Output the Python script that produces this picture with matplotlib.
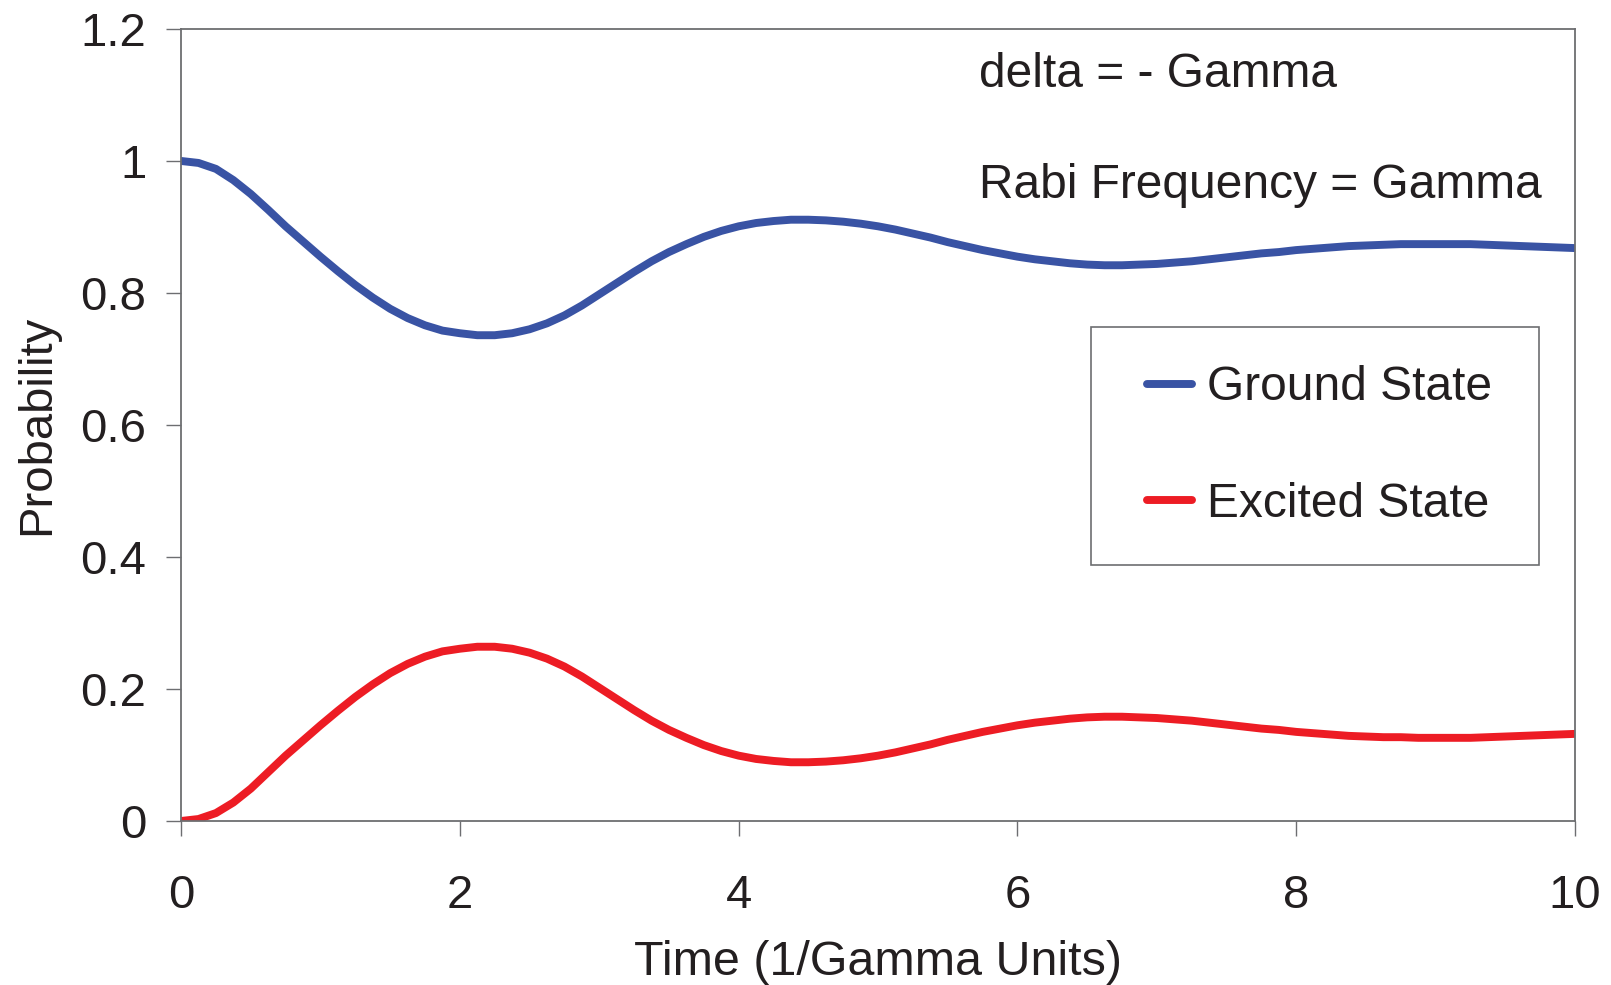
import numpy as np
import matplotlib
matplotlib.use("Agg")
import matplotlib.pyplot as plt
from matplotlib.legend_handler import HandlerLine2D

plt.rcParams['font.family'] = ['Liberation Sans', 'DejaVu Sans']

# state populations, sampled every 1/8 time unit
time = [0.0, 0.125, 0.25, 0.375, 0.5, 0.625, 0.75, 0.875,
        1.0, 1.125, 1.25, 1.375, 1.5, 1.625, 1.75, 1.875,
        2.0, 2.125, 2.25, 2.375, 2.5, 2.625, 2.75, 2.875,
        3.0, 3.125, 3.25, 3.375, 3.5, 3.625, 3.75, 3.875,
        4.0, 4.125, 4.25, 4.375, 4.5, 4.625, 4.75, 4.875,
        5.0, 5.125, 5.25, 5.375, 5.5, 5.625, 5.75, 5.875,
        6.0, 6.125, 6.25, 6.375, 6.5, 6.625, 6.75, 6.875,
        7.0, 7.125, 7.25, 7.375, 7.5, 7.625, 7.75, 7.875,
        8.0, 8.125, 8.25, 8.375, 8.5, 8.625, 8.75, 8.875,
        9.0, 9.125, 9.25, 9.375, 9.5, 9.625, 9.75, 9.875,
        10.0]
ground = [1.000, 0.997, 0.988, 0.971, 0.950, 0.926, 0.901, 0.878,
          0.855, 0.833, 0.812, 0.793, 0.776, 0.762, 0.751, 0.743,
          0.739, 0.736, 0.736, 0.739, 0.745, 0.754, 0.766, 0.781,
          0.798, 0.815, 0.832, 0.848, 0.862, 0.874, 0.885, 0.894,
          0.901, 0.906, 0.909, 0.911, 0.911, 0.910, 0.908, 0.905,
          0.901, 0.896, 0.890, 0.884, 0.877, 0.871, 0.865, 0.860,
          0.855, 0.851, 0.848, 0.845, 0.843, 0.842, 0.842, 0.843,
          0.844, 0.846, 0.848, 0.851, 0.854, 0.857, 0.860, 0.862,
          0.865, 0.867, 0.869, 0.871, 0.872, 0.873, 0.874, 0.874,
          0.874, 0.874, 0.874, 0.873, 0.872, 0.871, 0.870, 0.869,
          0.868]
excited = [0.000, 0.003, 0.012, 0.028, 0.049, 0.074, 0.099, 0.122,
           0.145, 0.167, 0.188, 0.207, 0.224, 0.238, 0.249, 0.257,
           0.261, 0.264, 0.264, 0.261, 0.255, 0.246, 0.234, 0.219,
           0.202, 0.185, 0.168, 0.152, 0.138, 0.126, 0.115, 0.106,
           0.099, 0.094, 0.091, 0.089, 0.089, 0.090, 0.092, 0.095,
           0.099, 0.104, 0.110, 0.116, 0.123, 0.129, 0.135, 0.140,
           0.145, 0.149, 0.152, 0.155, 0.157, 0.158, 0.158, 0.157,
           0.156, 0.154, 0.152, 0.149, 0.146, 0.143, 0.140, 0.138,
           0.135, 0.133, 0.131, 0.129, 0.128, 0.127, 0.127, 0.126,
           0.126, 0.126, 0.126, 0.127, 0.128, 0.129, 0.130, 0.131,
           0.132]

xticks = [0, 2, 4, 6, 8, 10]
yticks = [0, 0.2, 0.4, 0.6, 0.8, 1.0, 1.2]
ytick_labels = ['0', '0.2', '0.4', '0.6', '0.8', '1', '1.2']

text_col = '#231f20'
frame_col = '#6d6e71'

fig = plt.figure(figsize=(16.11, 9.85), dpi=100)
ax = fig.add_axes([0.1124, 0.1665, 0.8653, 0.8041])

ax.plot(time, ground, color='#3953a4', lw=5.7, solid_capstyle='round',
        solid_joinstyle='round', label='Ground State')
ax.plot(time, excited, color='#ed1c24', lw=5.7, solid_capstyle='round',
        solid_joinstyle='round', label='Excited State')

ax.set_xlim(0, 10)
ax.set_ylim(0, 1.2)
ax.set_xticks(xticks)
ax.set_yticks(yticks)
ax.set_yticklabels(ytick_labels)

for s in ax.spines.values():
    s.set_color(frame_col)
    s.set_linewidth(1.3)

ax.tick_params(axis='both', direction='out', length=11, width=1.0,
               color=frame_col, labelsize=34, labelcolor=text_col)
ax.tick_params(axis='y', pad=14)
ax.tick_params(axis='x', pad=27)

ax.set_xlabel('Time (1/Gamma Units)', fontsize=34.8, color=text_col, labelpad=16)
ax.set_ylabel('Probability', fontsize=34, color=text_col, labelpad=15.5)

ax.text(0.5725, 0.927, 'delta = - Gamma', transform=ax.transAxes,
        fontsize=34.5, color=text_col, va='baseline', ha='left')
ax.text(0.5725, 0.787, 'Rabi Frequency = Gamma', transform=ax.transAxes,
        fontsize=34.5, color=text_col, va='baseline', ha='left')

# short legend strokes: two points with padding inside the handle box
hmap = {ln: HandlerLine2D(numpoints=2, marker_pad=0.37) for ln in ax.get_lines()}
leg = ax.legend(loc='upper left', bbox_to_anchor=(0.6528, 0.0, 0.3214, 0.6237),
                mode='expand', handler_map=hmap,
                fontsize=34.5, frameon=True, fancybox=False, framealpha=1,
                edgecolor=frame_col, handlelength=1.68, handletextpad=-0.07,
                labelspacing=1.49, borderpad=0.8, borderaxespad=0)
leg.get_frame().set_linewidth(1.2)
for t in leg.get_texts():
    t.set_color(text_col)

fig.savefig('out.png', dpi=100)
